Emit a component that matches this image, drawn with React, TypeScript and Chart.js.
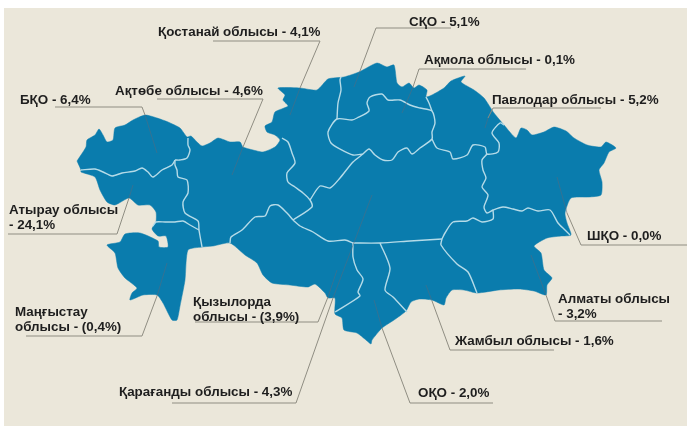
import React, { useEffect, useRef } from "react";
import { Chart, registerables } from "chart.js";

Chart.register(...registerables);

type P = [number, number];

const labelLines: string[][] = [
  ["Қостанай облысы - 4,1%"],
  ["Ақтөбе облысы - 4,6%"],
  ["БҚО - 6,4%"],
  ["Атырау облысы", "- 24,1%"],
  ["Маңғыстау", "облысы - (0,4%)"],
  ["Қызылорда", "облысы - (3,9%)"],
  ["Қарағанды облысы - 4,3%"],
  ["СҚО - 5,1%"],
  ["Ақмола облысы - 0,1%"],
  ["Павлодар облысы - 5,2%"],
  ["ШҚО - 0,0%"],
  ["Алматы облысы", "- 3,2%"],
  ["Жамбыл облысы - 1,6%"],
  ["ОҚО - 2,0%"],
];

const labelAnchors: P[] = [
  [158, 36], [115, 95], [20, 104], [9, 214], [15, 316], [193, 306], [119, 396],
  [409, 26], [424, 64], [492, 104], [587, 240], [558, 303], [455, 345], [418, 397],
];

const outline: P[] = [
  [77, 161], [86, 147], [87, 140], [95, 135], [99, 129], [103, 135], [107, 142], [113, 140], [115, 128],
  [125, 125], [133, 120], [145, 115], [157, 118], [168, 122], [180, 128], [187, 137], [191, 136], [197, 142],
  [202, 146], [210, 143], [218, 138], [230, 142], [240, 142], [243, 147], [253, 150], [263, 152], [275, 147],
  [280, 140], [275, 135], [267, 132], [265, 126], [272, 122], [275, 112], [288, 106], [283, 100], [285, 95],
  [278, 88], [300, 88], [317, 90], [328, 79], [344, 77], [359, 72], [377, 63], [387, 67], [394, 65],
  [397, 83], [402, 87], [409, 83], [414, 88], [419, 85], [427, 90], [426, 97], [432, 95], [444, 88],
  [451, 81], [465, 76], [461, 82], [474, 90], [484, 98], [494, 113], [504, 125], [516, 138], [521, 128],
  [527, 130], [532, 135], [544, 132], [554, 127], [566, 131], [574, 138], [587, 145], [601, 147], [606, 142],
  [616, 148], [609, 152], [604, 163], [599, 170], [602, 182], [601, 195], [589, 197], [571, 198], [565, 213],
  [567, 223], [571, 235], [561, 236], [547, 238], [534, 246], [541, 253], [544, 270], [552, 278], [547, 285],
  [546, 295], [534, 291], [519, 289], [499, 290], [477, 293], [464, 290], [452, 290], [446, 298], [444, 305],
  [432, 300], [419, 299], [411, 302], [406, 311], [394, 320], [382, 328], [372, 340], [371, 344], [366, 340],
  [357, 333], [344, 330], [342, 318], [335, 314], [335, 298], [328, 298], [325, 293], [315, 284], [308, 287],
  [290, 285], [272, 283], [263, 275], [257, 263], [245, 255], [230, 243], [213, 246], [202, 247], [188, 250],
  [185, 280], [180, 306], [177, 320], [172, 320], [163, 303], [157, 295], [143, 295], [130, 300], [132, 293],
  [137, 288], [125, 278], [118, 268], [115, 253], [107, 245], [120, 242], [125, 234], [140, 233], [158, 241],
  [159, 247], [168, 247], [166, 236], [158, 236], [152, 229], [156, 222], [156, 212], [150, 205], [138, 205],
  [129, 198], [115, 205], [107, 202], [100, 190], [95, 177], [81, 172], [81, 170], [77, 161],
];

const borders: P[][] = [
  [[81, 170], [95, 169], [103, 172], [112, 176], [122, 173], [135, 171], [142, 168], [148, 172], [153, 177], [162, 170], [172, 165], [175, 160]],
  [[188, 138], [188, 145], [190, 150], [187, 158], [180, 160], [175, 160]],
  [[175, 160], [175, 165], [177, 170], [178, 177], [187, 180], [188, 193], [183, 202], [185, 213], [198, 221], [199, 230], [202, 247]],
  [[153, 226], [156, 222], [165, 222], [175, 222], [183, 221], [190, 225], [199, 230]],
  [[282, 138], [288, 142], [292, 153], [295, 163], [287, 173], [288, 182], [295, 187], [303, 193], [310, 200], [312, 207], [293, 220]],
  [[230, 243], [231, 237], [242, 230], [255, 217], [265, 216], [270, 206], [278, 205], [287, 213], [293, 220]],
  [[293, 220], [300, 226], [313, 232], [328, 241], [345, 240], [353, 243]],
  [[310, 200], [320, 186], [330, 188], [340, 178], [353, 162], [363, 154]],
  [[363, 154], [369, 149], [375, 155], [383, 160], [392, 160], [398, 152], [407, 148], [412, 154], [420, 148], [432, 139], [432, 132], [435, 123], [432, 111], [420, 108], [410, 105], [400, 100], [388, 100], [382, 94], [370, 97], [367, 103], [369, 111], [357, 118], [352, 120], [337, 119], [328, 132], [331, 143], [340, 149], [353, 155], [363, 154]],
  [[341, 77], [340, 80], [341, 90], [338, 103], [337, 119]],
  [[426, 97], [429, 103], [432, 111]],
  [[432, 139], [437, 148], [450, 152], [453, 159], [467, 155], [473, 145], [485, 147], [487, 154], [498, 152], [499, 143], [492, 133], [500, 123], [504, 125]],
  [[487, 154], [482, 160], [483, 170], [486, 178], [482, 187], [488, 195], [484, 207], [487, 213], [493, 210], [503, 207], [513, 209], [522, 211], [528, 208], [538, 211], [550, 210], [558, 223], [565, 230], [570, 235]],
  [[493, 210], [493, 219], [482, 222], [473, 218], [467, 221], [453, 222], [445, 233], [442, 239]],
  [[353, 243], [380, 243], [410, 241], [442, 239]],
  [[442, 239], [441, 245], [457, 264], [468, 272], [477, 293]],
  [[380, 243], [390, 268], [385, 290], [393, 297], [407, 312]],
  [[353, 243], [353, 257], [357, 270], [363, 279], [358, 292], [360, 296], [335, 312]],
];

const leadersOutside: P[][] = [
  [[213, 41], [320, 41], [300, 88]],
  [[157, 99], [263, 99], [243, 147]],
  [[55, 107], [142, 107], [145, 115]],
  [[8, 234], [117, 234], [129, 198]],
  [[26, 336], [142, 336], [157, 296]],
  [[195, 322], [318, 322], [328, 297]],
  [[172, 403], [296, 403], [333, 298]],
  [[493, 403], [410, 403], [382, 328]],
  [[554, 350], [450, 350], [432, 301]],
  [[662, 321], [555, 321], [546, 295]],
  [[687, 245], [581, 245], [567, 213]],
  [[601, 108], [493, 108], [488, 118]],
  [[526, 69], [419, 69], [413, 87]],
  [[451, 28], [376, 28], [360, 71]],
];

const leadersInside: P[][] = [
  [[300, 88], [290, 115]],
  [[243, 147], [232, 175]],
  [[145, 115], [157, 153]],
  [[129, 198], [133, 185]],
  [[157, 296], [167, 263]],
  [[328, 297], [337, 270]],
  [[333, 298], [372, 195]],
  [[382, 328], [374, 300]],
  [[432, 301], [426, 285]],
  [[546, 295], [531, 255]],
  [[567, 213], [557, 177]],
  [[488, 118], [485, 128]],
  [[413, 87], [402, 113]],
  [[360, 71], [354, 87]],
];

const BLUE = "#0a7cad";
const BORDER = "#b5dbe8";
const LEADER = "#8f8d82";
const LEADER_IN = "rgba(85,105,125,0.55)";

const toPts = (a: P[]) => a.map(([x, y]) => ({ x, y }));
const lineDs = (a: P[], color: string, width: number, tension: number) => ({
  data: toPts(a),
  showLine: true,
  pointRadius: 0,
  borderColor: color,
  borderWidth: width,
  fill: false,
  tension,
});

const labelPlugin = {
  id: "labels",
  afterDatasetsDraw(chart: any) {
    const { ctx, scales } = chart;
    ctx.save();
    ctx.font = 'bold 13.4px "Liberation Sans", Arial, sans-serif';
    ctx.fillStyle = "#1e1e1e";
    ctx.textAlign = "left";
    ctx.textBaseline = "alphabetic";
    labelLines.forEach((lines, i) => {
      const [x, y] = labelAnchors[i];
      lines.forEach((t, j) => {
        ctx.fillText(t, scales.x.getPixelForValue(x), scales.y.getPixelForValue(y + j * 15));
      });
    });
    ctx.restore();
  },
};

export default function App() {
  const ref = useRef<HTMLCanvasElement>(null);
  useEffect(() => {
    document.body.style.margin = "0";
    const chart = new Chart(ref.current as HTMLCanvasElement, {
      type: "scatter",
      data: {
        datasets: [
          ...leadersOutside.map((l) => lineDs(l, LEADER, 1, 0)),
          ...leadersInside.map((l) => lineDs(l, LEADER_IN, 1, 0)),
          ...borders.map((b) => lineDs(b, BORDER, 1.4, 0.25)),
          {
            data: toPts(outline),
            showLine: true,
            pointRadius: 0,
            borderColor: BLUE,
            borderWidth: 0.5,
            backgroundColor: BLUE,
            fill: "shape",
            tension: 0.2,
          },
        ] as any,
      },
      options: {
        animation: false,
        responsive: false,
        layout: { padding: 0 },
        plugins: { legend: { display: false }, tooltip: { enabled: false }, title: { display: false } },
        scales: {
          x: { type: "linear", min: 0, max: 687, display: false },
          y: { type: "linear", min: 0, max: 426, reverse: true, display: false },
        },
      },
      plugins: [labelPlugin],
    });
    return () => chart.destroy();
  }, []);
  return (
    <div style={{ position: "relative", width: 687, height: 426, background: "#fff", overflow: "hidden" }}>
      <div style={{ position: "absolute", left: 4, top: 8, right: 0, bottom: 0, background: "#ebe7da" }} />
      <canvas
        ref={ref}
        width={687}
        height={426}
        style={{ position: "absolute", left: 0, top: 0, width: 687, height: 426, filter: "blur(0.35px)" }}
      />
    </div>
  );
}
